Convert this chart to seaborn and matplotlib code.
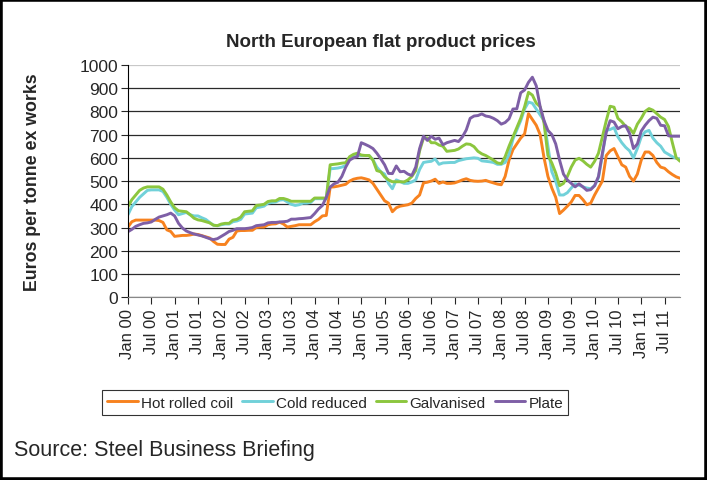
import numpy as np
import pandas as pd
import matplotlib
matplotlib.use("Agg")
import matplotlib.pyplot as plt
import seaborn as sns

# monthly prices, Jan 2000 - Nov 2011 (euros per tonne)
hot_rolled = [302, 325, 332, 332, 332, 332, 332, 332, 330, 322, 290, 283,
              262, 264, 266, 266, 268, 272, 270, 265, 260, 255, 240, 228,
              227, 227, 250, 258, 285, 287, 287, 288, 288, 300, 302, 302,
              312, 315, 316, 323, 315, 302, 305, 308, 312, 312, 312, 312,
              325, 335, 350, 352, 474, 475, 478, 482, 486, 500, 508, 512,
              514, 510, 505, 490, 465, 440, 415, 405, 368, 385, 392, 395,
              398, 405, 425, 440, 492, 495, 500, 508, 490, 496, 490, 490,
              492, 498, 505, 510, 503, 500, 499, 500, 503, 497, 492, 487,
              484, 520, 590, 635, 660, 685, 703, 790, 765, 740, 700, 600,
              520, 470, 430, 360, 375, 392, 410, 438, 438, 420, 398, 405,
              440, 470, 500, 610, 630, 640, 605, 570, 560, 520, 500, 530,
              590, 625, 625, 610, 580, 560, 555, 540, 528, 518, 512]

cold_reduced = [355, 390, 410, 430, 445, 460, 462, 462, 462, 455, 430, 400,
                375, 355, 360, 365, 355, 350, 350, 342, 335, 322, 310, 308,
                312, 315, 315, 325, 328, 335, 358, 360, 362, 385, 388, 392,
                405, 408, 410, 418, 420, 410, 400, 395, 398, 405, 405, 408,
                424, 424, 424, 424, 553, 554, 556, 560, 567, 600, 610, 610,
                610, 610, 610, 592, 560, 540, 530, 490, 467, 505, 498, 490,
                490, 496, 505, 550, 580, 583, 585, 595, 572, 578, 579, 580,
                580, 588, 592, 596, 598, 600, 598, 587, 585, 583, 580, 572,
                572, 580, 615, 680, 720, 760, 810, 840, 835, 810, 785, 760,
                650, 540, 500, 440, 440, 450, 470, 488, 482, 475, 470, 467,
                480, 515, 610, 718, 722, 730, 690, 665, 645, 630, 600, 640,
                690, 712, 718, 685, 665, 650, 625, 615, 605, 598, 595]

galvanised = [390, 420, 440, 460, 470, 475, 475, 475, 475, 465, 440, 410,
              385, 372, 370, 368, 355, 340, 333, 330, 325, 320, 310, 308,
              315, 318, 318, 332, 335, 345, 368, 370, 372, 395, 397, 400,
              412, 415, 415, 425, 425, 420, 413, 413, 413, 413, 413, 413,
              427, 427, 427, 427, 570, 572, 574, 577, 579, 605, 615, 620,
              612, 610, 610, 590, 545, 540, 518, 505, 497, 497, 497, 496,
              505, 520, 545, 630, 685, 685, 665, 665, 655, 650, 628, 630,
              632, 638, 650, 660, 658, 648, 628, 617, 610, 600, 590, 578,
              575, 605, 650, 690, 730, 770, 820, 882, 870, 835, 820, 750,
              610, 578, 535, 480, 490, 520, 560, 590, 598, 587, 572, 560,
              585, 620, 690, 760, 822, 818, 770, 755, 735, 728, 705, 745,
              770, 800, 812, 805, 790, 775, 765, 735, 665, 600, 585]

plate = [282, 292, 305, 312, 318, 320, 324, 335, 345, 350, 355, 362,
         350, 318, 298, 285, 278, 272, 268, 264, 258, 252, 248, 252,
         262, 272, 283, 288, 295, 295, 295, 297, 300, 308, 310, 312,
         320, 322, 322, 324, 325, 327, 336, 336, 338, 339, 341, 343,
         360, 380, 395, 430, 474, 488, 495, 520, 560, 590, 600, 605,
         665, 658, 650, 640, 620, 596, 570, 533, 532, 565, 540, 542,
         530, 524, 560, 640, 693, 675, 693, 680, 685, 656, 665, 670,
         675, 670, 690, 720, 770, 780, 782, 789, 780, 777, 770, 760,
         745, 752, 768, 810, 811, 880, 892, 925, 947, 910, 820, 760,
         718, 700, 660, 590, 530, 505, 490, 475, 488, 475, 460, 463,
         480, 520, 620, 710, 760, 754, 725, 735, 738, 705, 640, 660,
         715, 740, 760, 775, 770, 740, 738, 695, 693, 693, 693]

series_names = ["Hot rolled coil", "Cold reduced", "Galvanised", "Plate"]
colours = ["#f7821f", "#71d1d9", "#8cc63e", "#7e5fa6"]

years = ["00", "01", "02", "03", "04", "05", "06", "07", "08", "09", "10", "11"]
tick_labels = []
for y in years:
    tick_labels.append("Jan " + y)
    tick_labels.append("Jul " + y)

# long format table for seaborn
month = np.arange(len(hot_rolled))
frames = []
for name, vals in zip(series_names, [hot_rolled, cold_reduced, galvanised, plate]):
    frames.append(pd.DataFrame({"month": month, "price": vals, "product": name}))
df = pd.concat(frames, ignore_index=True)

sns.set_style("white")
plt.rcParams["font.family"] = ["Liberation Sans", "DejaVu Sans"]

fig = plt.figure(figsize=(7.07, 4.81), dpi=100)
ax = fig.add_axes([0.181, 0.380, 0.781, 0.483])

sns.lineplot(data=df, x="month", y="price", hue="product",
             hue_order=series_names, palette=colours, linewidth=2.1, ax=ax)

ax.set_xlim(0, len(hot_rolled) - 1)
ax.set_ylim(0, 1000)
ax.set_yticks(range(0, 1001, 100))
ax.set_xticks(range(0, 6 * len(tick_labels), 6))
ax.set_xticklabels(tick_labels, rotation=90, fontsize=12)
ax.tick_params(axis="y", labelsize=12.5, length=5, width=0.8, direction="out", left=True, pad=2)
ax.tick_params(axis="x", length=5, width=0.8, direction="out", bottom=True, pad=3)

ax.yaxis.grid(True, color="#2a2a2a", linewidth=0.9)
ax.get_ygridlines()[-1].set_color("#c8c8c8")
ax.set_axisbelow(True)
for s in ["top", "right"]:
    ax.spines[s].set_visible(False)
ax.spines["left"].set_color("black")
ax.spines["bottom"].set_color("#888888")

ax.set_xlabel("")
ax.set_ylabel("Euros per tonne ex works", fontsize=12.8, fontweight="bold")
ax.yaxis.set_label_coords(-0.158, 0.5)

fig.text(0.539, 0.912, "North European flat product prices", fontsize=13.5,
         fontweight="bold", ha="center", va="center")

handles, labels = ax.get_legend_handles_labels()
ax.get_legend().remove()
leg = fig.legend(handles, labels, loc="center", bbox_to_anchor=(0.474, 0.161), ncol=4,
                 fontsize=11, frameon=True, fancybox=False, edgecolor="black",
                 handlelength=2.0, handletextpad=0.2, columnspacing=0.6,
                 borderpad=0.35)
leg.get_frame().set_linewidth(0.8)

fig.text(0.02, 0.063, "Source: Steel Business Briefing", fontsize=15.5, ha="left", va="center")

# border round the whole picture
fig.patches.append(plt.Rectangle((0, 0), 1, 1, transform=fig.transFigure,
                                 fill=False, edgecolor="black", linewidth=4))

fig.savefig("out.png", dpi=100)
